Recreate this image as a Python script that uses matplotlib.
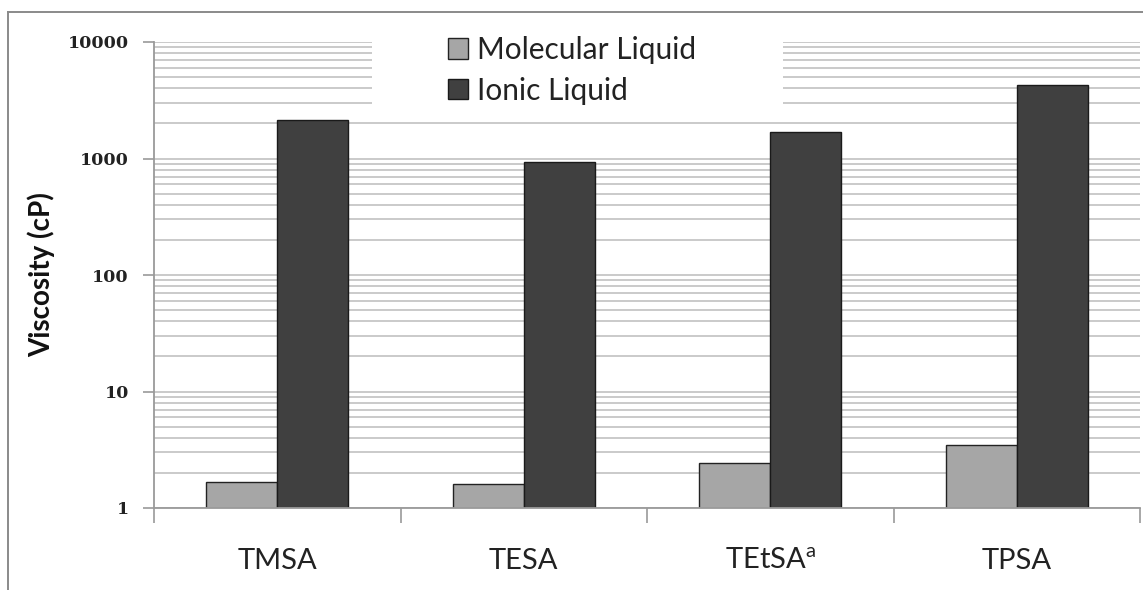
import numpy as np
import matplotlib.pyplot as plt
from matplotlib.patches import Rectangle
from matplotlib.lines import Line2D
from matplotlib.ticker import LogLocator, NullFormatter

plt.rcParams['mathtext.fontset'] = 'custom'
plt.rcParams['mathtext.rm'] = 'Lato'

# data
categories = ['TMSA', 'TESA', 'TEtSA$^{\\mathrm{a}}$', 'TPSA']
molecular = [1.67, 1.61, 2.43, 3.47]
ionic = [2140, 930, 1690, 4280]
yticks = [1, 10, 100, 1000, 10000]
ytick_labels = ['1', '10', '100', '1000', '10000']
series_names = ['Molecular Liquid', 'Ionic Liquid']

W, H = 1143, 590
fig = plt.figure(figsize=(W / 100, H / 100), dpi=100)
ax = fig.add_axes([154 / W, 1 - 508 / H, (1140 - 154) / W, (508 - 42) / H])

x = np.arange(len(categories))
bw = 0.288
ax.bar(x - bw / 2, molecular, bw, color='#a6a6a6', edgecolor='#222222',
       lw=1.0, label=series_names[0], zorder=2)
ax.bar(x + bw / 2, ionic, bw, color='#404040', edgecolor='#1a1a1a',
       lw=1.0, label=series_names[1], zorder=2)

ax.set_yscale('log')
ax.set_ylim(1, 10000)
ax.set_xlim(-0.5, len(categories) - 0.5)

# y axis: majors with labels, minors only as gridlines
ax.set_yticks(yticks)
ax.set_yticklabels(ytick_labels, family='DejaVu Serif', weight='bold',
                   fontsize=12.5, color='#222222')
ax.yaxis.set_minor_locator(LogLocator(base=10, subs=np.arange(2, 10)))
ax.yaxis.set_minor_formatter(NullFormatter())
ax.yaxis.grid(True, which='both', color='#c6c6c6', lw=1.3, zorder=0)
ax.set_axisbelow(True)
ax.tick_params(axis='y', which='major', length=8, width=1.2,
               color='#9a9a9a', pad=10)
ax.tick_params(axis='y', which='minor', length=0)

# x axis: labels at centres, ticks at the category boundaries
ax.set_xticks(x)
ax.set_xticklabels(categories, family='Lato', fontsize=21, color='#222222')
ax.set_xticks(np.arange(-0.5, len(categories)), minor=True)
ax.tick_params(axis='x', which='major', length=0, pad=29)
ax.tick_params(axis='x', which='minor', length=11, width=1.2,
               color='#9a9a9a')

for s in ['top', 'right']:
    ax.spines[s].set_visible(False)
for s in ['left', 'bottom']:
    ax.spines[s].set_color('#9a9a9a')
    ax.spines[s].set_linewidth(1.3)

ax.set_ylabel('Viscosity (cP)', family='Lato', weight='bold', fontsize=20,
              color='#111111', va='center')
ax.yaxis.set_label_coords((41 - 154) / 986, 0.5)

# white legend background that hides the gridlines
ax.add_patch(Rectangle((372 / W, 1 - 108 / H), (783 - 372) / W, (108 - 13) / H,
                       transform=fig.transFigure, facecolor='white',
                       edgecolor='none', clip_on=False, zorder=3))
leg = ax.legend(loc='upper left', bbox_to_anchor=(448 / W, 1 - 36 / H),
                bbox_transform=fig.transFigure, frameon=False,
                prop={'family': 'Lato', 'size': 21.5}, borderpad=0,
                borderaxespad=0, handlelength=0.66, handleheight=0.66,
                handletextpad=0.3, labelspacing=0.42)
leg.set_zorder(5)
for t in leg.get_texts():
    t.set_color('#222222')

# outer chart frame (cut off on right and bottom)
fig.add_artist(Line2D([8 / W, 8 / W], [0, 1 - 12 / H], color='#8a8a8a', lw=1.4))
fig.add_artist(Line2D([8 / W, 1], [1 - 12 / H, 1 - 12 / H], color='#8a8a8a', lw=1.4))

fig.savefig('out.png', dpi=100)
